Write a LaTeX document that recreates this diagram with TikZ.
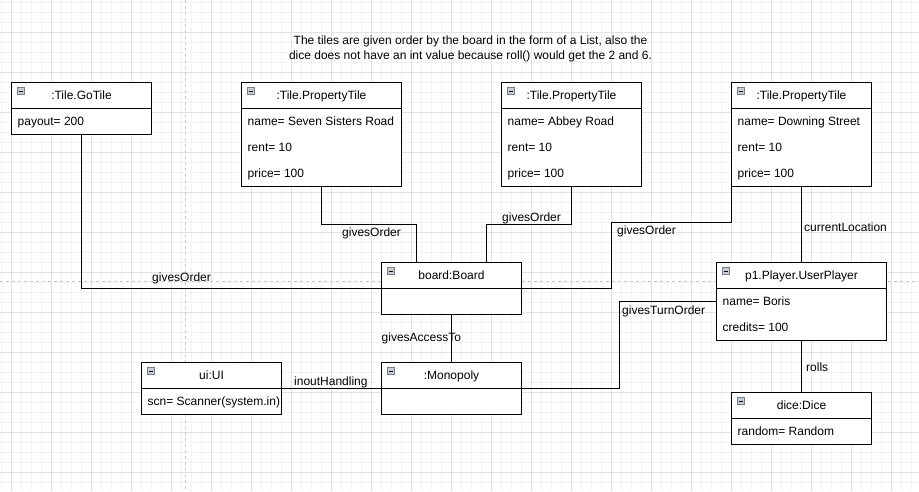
\documentclass[tikz,border=0pt]{standalone}
\usepackage{fontspec}
\setmainfont{Liberation Sans}
\usepackage{tikz}
\usetikzlibrary{positioning}
\tikzstyle{diagram} = [x = 1pt, y = -1pt]
\definecolor{gridMinor}{RGB}{243,243,243}
\definecolor{gridMajor}{RGB}{226,226,226}
\definecolor{pageBreak}{RGB}{200,200,200}
\definecolor{iconFill}{RGB}{200,204,212}
\definecolor{iconBorder}{RGB}{120,126,136}
\tikzstyle{objectStyle} = [draw=black, line width=1.2pt, outer sep=0pt, inner sep=0pt]
\tikzstyle{headerLine} = [color=black, line width=1.2pt]
\tikzstyle{linkLine} = [color=black, line width=1.2pt]
\tikzstyle{titleText} = [font=\fontsize{12}{14}\selectfont, inner sep=0pt, text height=8.6pt, text depth=0pt]
\tikzstyle{attributeText} = [font=\fontsize{12}{14}\selectfont, inner sep=0pt, text height=8.6pt, text depth=0pt, anchor=west]
\tikzstyle{linkText} = [font=\fontsize{12}{14}\selectfont, inner sep=0pt, text height=8.6pt, text depth=0pt, anchor=west]
\tikzstyle{noteText} = [font=\fontsize{12}{15.7}\selectfont, inner sep=0pt, align=center]
\tikzstyle{iconStyle} = [draw=iconBorder, fill=iconFill, line width=0.8pt, minimum size=7pt, inner sep=0pt,
  path picture={\draw [black, line width=1pt] ([xshift=1.5pt]path picture bounding box.west) -- ([xshift=-1.5pt]path picture bounding box.east);}]
\newcommand{\backgroundGrid}{
  \fill [white] (0,0) rectangle (919,491);
  \foreach \gridX in {1.5,11.5,...,911.5} {
    \draw [gridMinor, line width=0.8pt] (\gridX,0) -- (\gridX,491);
  }
  \foreach \gridY in {2,12,...,482} {
    \draw [gridMinor, line width=0.8pt] (0,\gridY) -- (919,\gridY);
  }
  \foreach \gridX in {11.5,51.5,...,891.5} {
    \draw [gridMajor, line width=0.8pt] (\gridX,0) -- (\gridX,491);
  }
  \foreach \gridY in {32,72,...,472} {
    \draw [gridMajor, line width=0.8pt] (0,\gridY) -- (919,\gridY);
  }
  \draw [pageBreak, line width=0.8pt, dash pattern=on 3pt off 3pt] (185.5,0) -- (185.5,491);
  \draw [pageBreak, line width=0.8pt, dash pattern=on 3pt off 3pt] (0,281.5) -- (919,281.5);
}
\newcommand{\objectBox}[7]{
  \pgfmathsetmacro{\boxHeight}{26 * (#5 + 1)}
  \node [objectStyle, fill=white, minimum width=#4pt, minimum height=\boxHeight pt, anchor=north west] (#1) at (#2,#3) {};
  \draw [headerLine] ([yshift=-26pt]#1.north west) coordinate (#1HeadWest) -- ([yshift=-26pt]#1.north east) coordinate (#1HeadEast);
  \node [titleText] (#1Title) at ([yshift=-13pt]#1.north) {#6};
  \node [iconStyle] (#1Icon) at ([xshift=9pt, yshift=-8.5pt]#1.north west) {};
  \begin{scope}
    \clip ([xshift=0.6pt]#1.north west) rectangle ([xshift=-0.6pt]#1.south east);
    \foreach \attribute [count=\row] in {#7} {
      \node [attributeText] (#1Row\row) at ([xshift=6pt, yshift={-13pt-26pt*\row}]#1.north west) {\attribute};
    }
  \end{scope}
}

\begin{document}
\begin{tikzpicture}[diagram]
  \useasboundingbox (0,0) rectangle (919,491);
  \backgroundGrid

  \node [noteText] (note) at (470.5,49) {The tiles are given order by the board in the form of a List, also the\\dice does not have an int value because roll() would get the 2 and 6.};

  \objectBox{goTile}{11.5}{82.5}{140}{1}{:Tile.GoTile}{payout= 200}
  \objectBox{sevenSisters}{241.5}{82.5}{160}{3}{:Tile.PropertyTile}{name= Seven Sisters Road, rent= 10, price= 100}
  \objectBox{abbeyRoad}{501.5}{82.5}{140}{3}{:Tile.PropertyTile}{name= Abbey Road, rent= 10, price= 100}
  \objectBox{downingStreet}{731.5}{82.5}{140}{3}{:Tile.PropertyTile}{name= Downing Street, rent= 10, price= 100}
  \objectBox{board}{381.5}{262.5}{140}{1}{board:Board}{}
  \objectBox{player}{716.5}{262.5}{170}{2}{p1.Player.UserPlayer}{name= Boris, credits= 100}
  \objectBox{monopoly}{381.5}{362.5}{140}{1}{:Monopoly}{}
  \objectBox{ui}{141.5}{362.5}{140}{1}{ui:UI}{scn= Scanner(system.in)}
  \objectBox{dice}{731.5}{392.5}{140}{1}{dice:Dice}{random= Random}

  \draw [linkLine] (goTile.south) |- (boardHeadWest);
  \draw [linkLine] (sevenSisters.south) -- ++(0,38) -| ([xshift=-35pt]board.north);
  \draw [linkLine] (abbeyRoad.south) -- ++(0,38) -| ([xshift=35pt]board.north);
  \draw [linkLine] (downingStreet.south west) -- ++(0,36) -| ([xshift=90pt]boardHeadEast) -- (boardHeadEast);
  \draw [linkLine] (downingStreet.south) -- (player.north);
  \draw [linkLine] (board.south) -- (monopoly.north);
  \draw [linkLine] (uiHeadEast) -- (monopolyHeadWest);
  \draw [linkLine] (monopolyHeadEast) -| ([xshift=-97pt]player.west) -- (player.west);
  \draw [linkLine] (player.south) -- (dice.north);

  \node [linkText] (goOrderLabel) at (152,277) {givesOrder};
  \node [linkText] (sistersOrderLabel) at (342,232) {givesOrder};
  \node [linkText] (abbeyOrderLabel) at (502,217) {givesOrder};
  \node [linkText] (downingOrderLabel) at (617,230) {givesOrder};
  \node [linkText] (locationLabel) at (804,227) {currentLocation};
  \node [linkText] (turnOrderLabel) at (622,310) {givesTurnOrder};
  \node [linkText] (rollsLabel) at (806,367) {rolls};
  \node [linkText] (accessLabel) at (381.5,337) {givesAccessTo};
  \node [linkText] (inputLabel) at (294,381) {inoutHandling};
\end{tikzpicture}
\end{document}
